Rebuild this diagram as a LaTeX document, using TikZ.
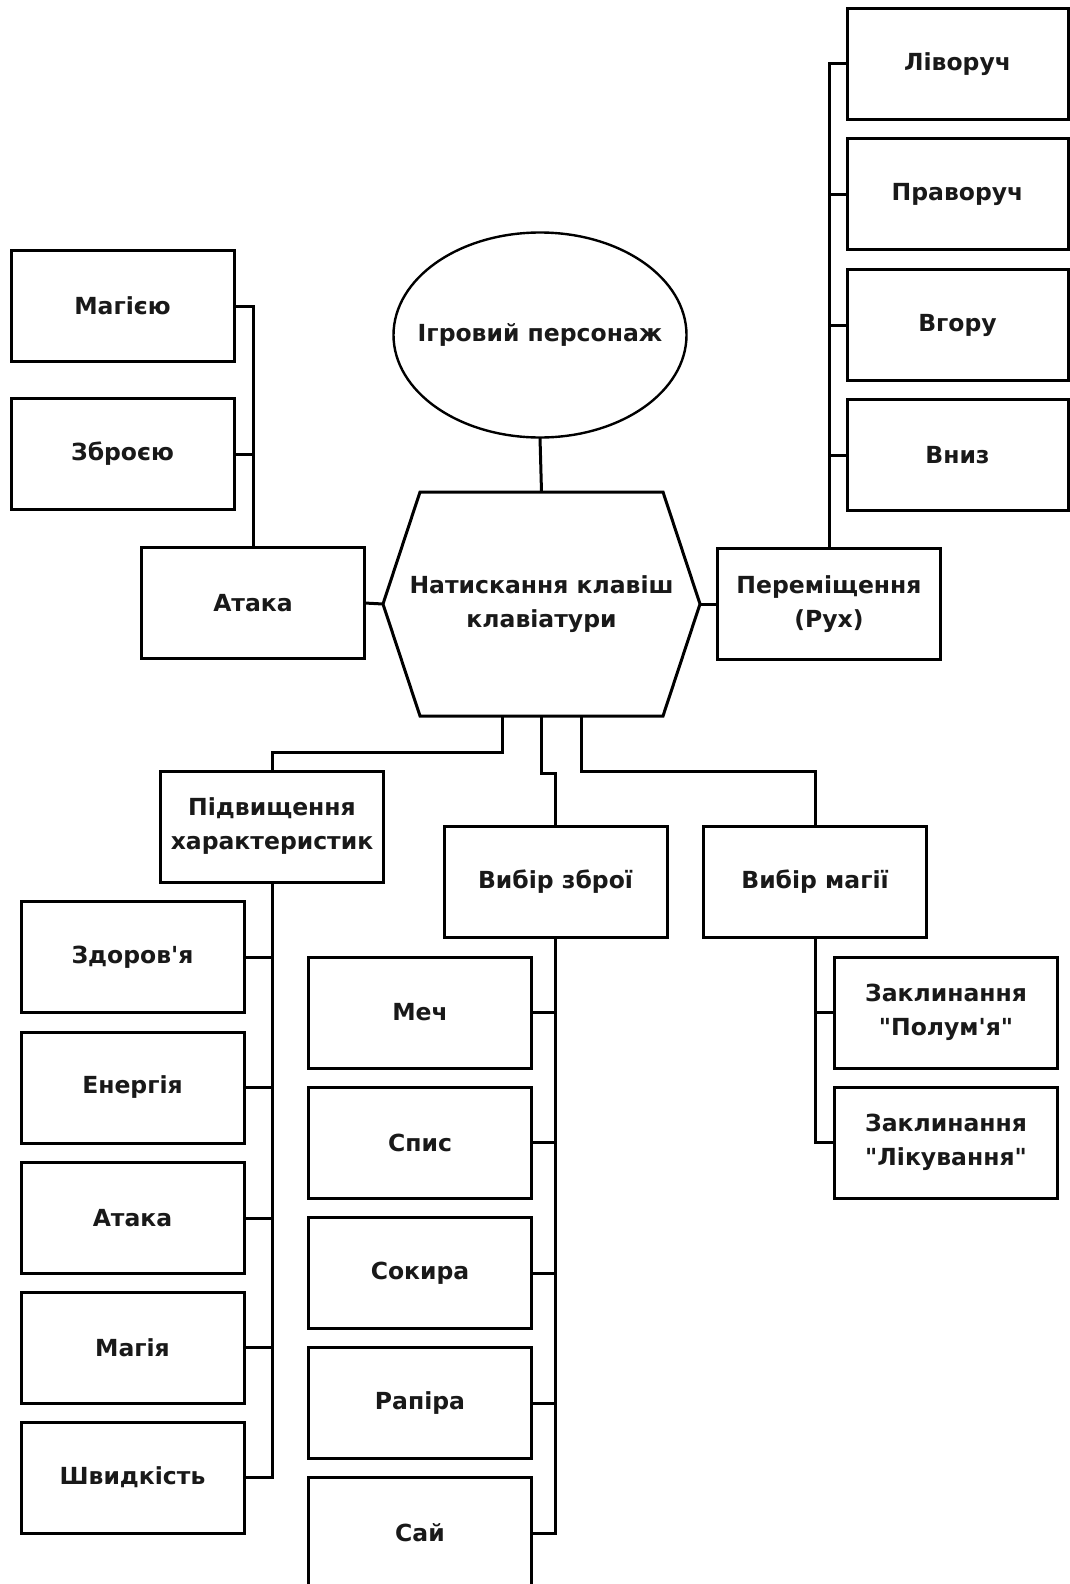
\documentclass[tikz,border=0pt]{standalone}
\usepackage{fontspec}
\setmainfont{DejaVu Sans}[Ligatures=TeXOff]
\usetikzlibrary{calc,shapes.geometric}
\begin{document}
\begin{tikzpicture}[x=1pt,y=-1pt,
  every node/.style={font=\bfseries\fontsize{23.5}{34}\selectfont, text=black!90, align=center, outer sep=0pt, inner sep=0pt},
  box/.style={draw, line width=3pt, minimum width=223pt, minimum height=111pt},
  link/.style={draw, line width=3pt}]
\useasboundingbox (0,0) rectangle (1069,1584);

% central figures: the character (ellipse) and the key-press hexagon
\node[minimum width=293pt, minimum height=205pt] (hero) at (540,335) {Ігровий персонаж};
\draw[line width=2.4pt] (hero.center) ellipse [x radius=146.5, y radius=102.5];
\node[minimum width=317pt, minimum height=224pt] (keys) at (541.5,604) {Натискання клавіш\\клавіатури};
\draw[line width=3pt, line join=miter]
  ($(keys.north west)+(37,0)$) -- ($(keys.north east)+(-37,0)$) -- (keys.east)
  -- ($(keys.south east)+(-37,0)$) -- ($(keys.south west)+(37,0)$) -- (keys.west) -- cycle;

% attack branch
\node[box] (attack) at (253,603) {Атака};
\node[box] (magic) at (122.5,306) {Магією};
\node[box] (weapon) at (122.5,454) {Зброєю};

% movement branch
\node[box] (move) at (829,604) {Переміщення\\(Рух)};
\node[box, minimum width=221pt] (left) at (957.5,64) {Ліворуч};
\node[box, minimum width=221pt] (right) at (957.5,194) {Праворуч};
\node[box, minimum width=221pt] (up) at (957.5,325) {Вгору};
\node[box, minimum width=221pt] (down) at (957.5,455) {Вниз};

% lower branches
\node[box] (stats) at (272,826.5) {Підвищення\\характеристик};
\node[box] (wsel) at (555.5,882) {Вибір зброї};
\node[box] (msel) at (815,882) {Вибір магії};

\node[box] (hp) at (132.5,957) {Здоров'я};
\node[box] (en) at (132.5,1087.5) {Енергія};
\node[box] (atk) at (132.5,1218) {Атака};
\node[box] (mag) at (132.5,1347.5) {Магія};
\node[box] (spd) at (132.5,1477.5) {Швидкість};

\node[box] (sword) at (420,1012.5) {Меч};
\node[box] (spear) at (420,1142.5) {Спис};
\node[box] (axe) at (420,1273) {Сокира};
\node[box] (rapier) at (420,1403) {Рапіра};
\node[box] (sai) at (420,1533) {Сай};

\node[box] (fire) at (946,1012.5) {Заклинання\\"Полум'я"};
\node[box] (heal) at (946,1142.5) {Заклинання\\"Лікування"};

% connectors
\draw[link] (hero.south) -- (keys.north);
\draw[link] (attack.east) -- (keys.west);
\draw[link] (keys.east) -- (move.west);

\draw[link] (attack.north) |- (magic.east);
\draw[link] (weapon.east) -- (weapon.east -| attack.north);

\draw[link] (move.north) |- (left.west);
\draw[link] (right.west) -- (right.west -| move.north);
\draw[link] (up.west) -- (up.west -| move.north);
\draw[link] (down.west) -- (down.west -| move.north);

\coordinate (k1) at ($(keys.south)+(-39.5,0)$);
\coordinate (k3) at ($(keys.south)+(39.5,0)$);
\draw[link] (k1) -- ++(0,36) -| (stats.north);
\draw[link] (keys.south) -- ++(0,57) -| (wsel.north);
\draw[link] (k3) -- ++(0,55) -| (msel.north);

\draw[link] (stats.south) |- (spd.east);
\foreach \n in {hp,en,atk,mag} \draw[link] (\n.east) -- (\n.east -| stats.south);

\draw[link] (wsel.south) |- (sai.east);
\foreach \n in {sword,spear,axe,rapier} \draw[link] (\n.east) -- (\n.east -| wsel.south);

\draw[link] (msel.south) |- (heal.west);
\draw[link] (fire.west) -- (fire.west -| msel.south);
\end{tikzpicture}
\end{document}
